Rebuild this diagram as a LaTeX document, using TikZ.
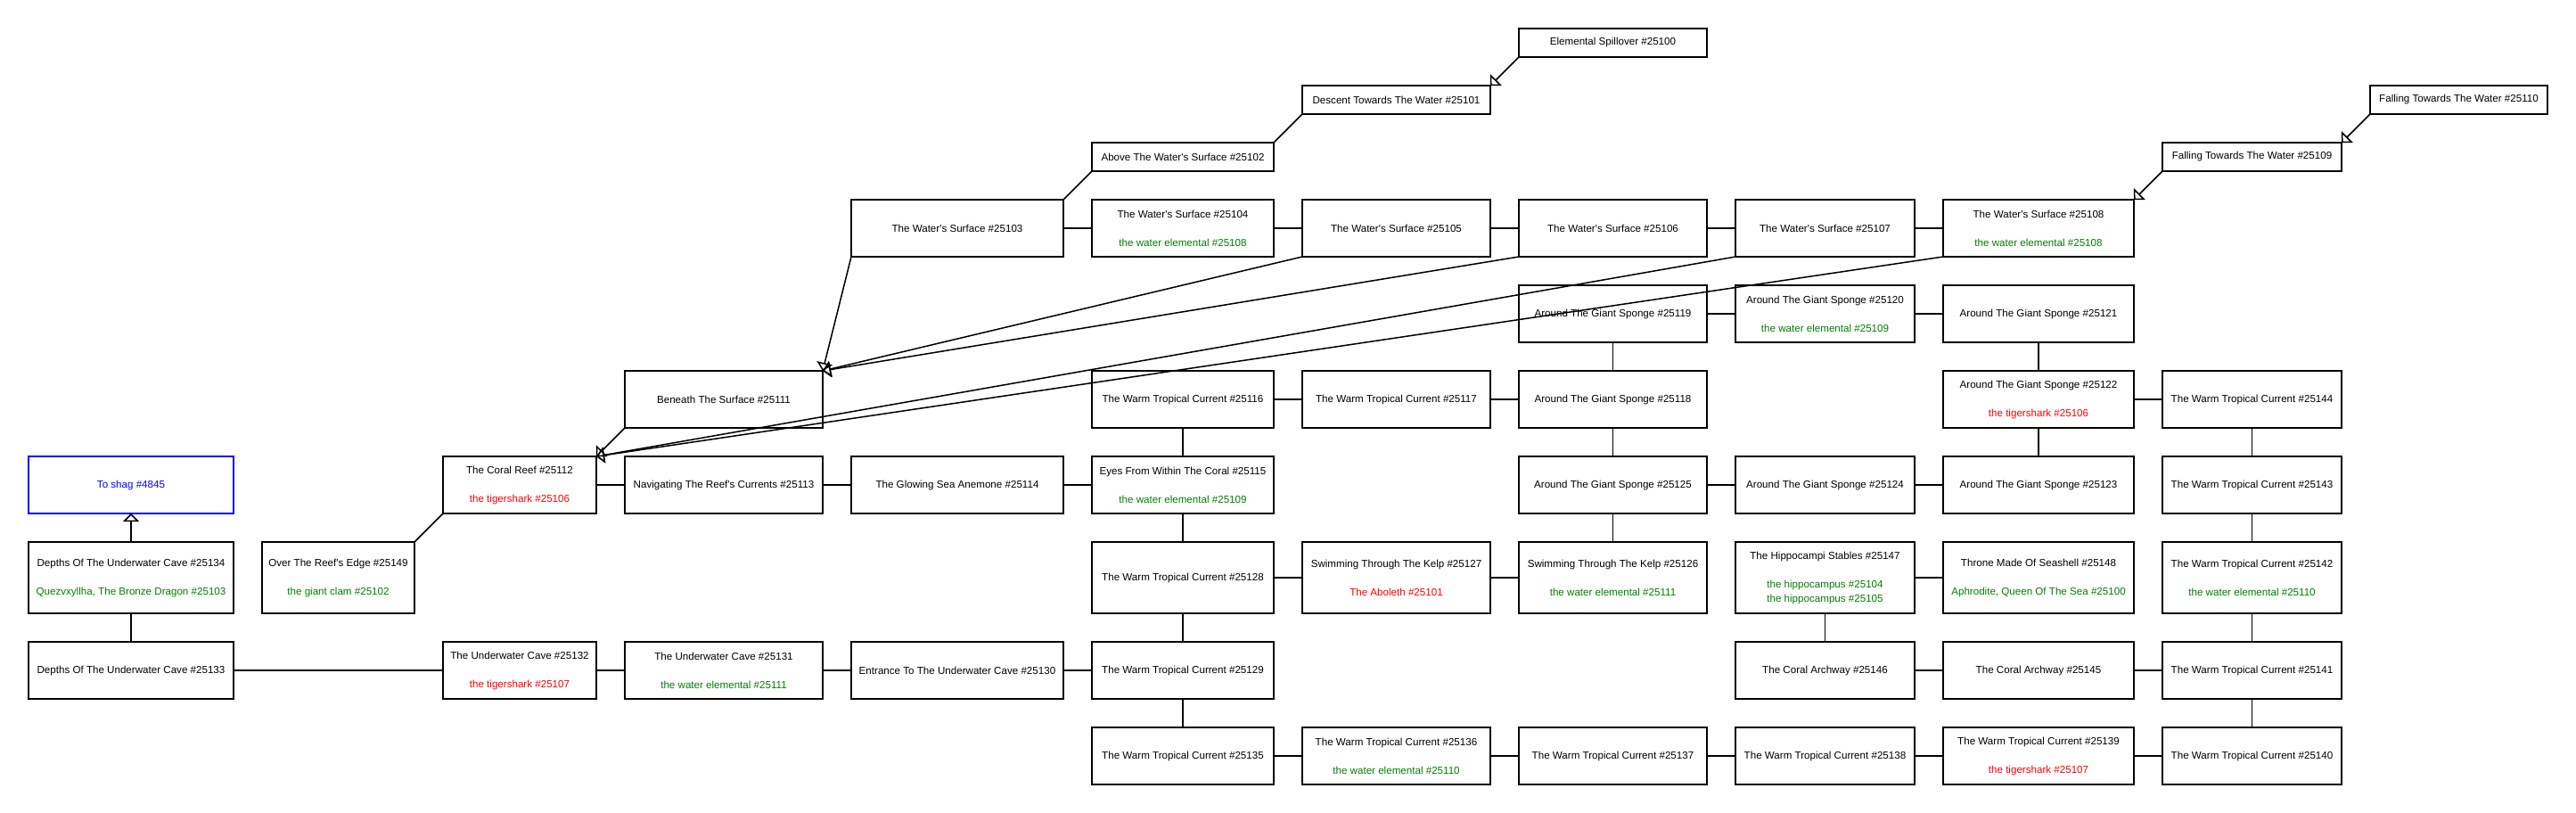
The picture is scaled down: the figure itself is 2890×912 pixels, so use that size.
\documentclass[tikz,border=0pt]{standalone}
\usepackage{fontspec}
\setmainfont{Liberation Sans}
\usetikzlibrary{arrows.meta}
\definecolor{tgreen}{RGB}{0,128,0}
\definecolor{tred}{RGB}{255,0,0}
\definecolor{tblue}{RGB}{0,0,255}
\newcommand\ap{\textquotesingle}
\newcommand\grn[1]{\textcolor{tgreen}{#1}}
\newcommand\rdd[1]{\textcolor{tred}{#1}}
\begin{document}
\begin{tikzpicture}[x=1pt,y=-1pt,
  room/.style={draw, line width=2pt, rectangle, inner sep=0pt, outer sep=0pt,
    align=center, font=\fontsize{11.6}{32}\selectfont},
  h32/.style={minimum height=32pt}, h64/.style={minimum height=64pt}, h80/.style={minimum height=80pt},
  c0/.style={minimum width=230pt}, c1/.style={minimum width=171pt}, c2/.style={minimum width=172pt},
  c3/.style={minimum width=222pt}, c4/.style={minimum width=238pt}, c5/.style={minimum width=204pt},
  c6/.style={minimum width=211pt}, c7/.style={minimum width=211pt}, c8/.style={minimum width=201pt},
  c9/.style={minimum width=214pt}, c10/.style={minimum width=201pt}, c11/.style={minimum width=199pt},
  conn/.style={line width=1.5pt},
  arr/.style={conn, -{Triangle[open, length=9pt, width=18pt]}}]
\fill[white] (0,0) rectangle (2890,912);
\useasboundingbox (0,0) rectangle (2890,912);
% R0
\node[room,h32,c7] (n25100) at (1809.5,48) {Elemental Spillover \#25100};
% R1
\node[room,h32,c6] (n25101) at (1566.5,112) {Descent Towards The Water \#25101};
\node[room,h32,c11] (n25110) at (2758.5,112) {Falling Towards The Water \#25110};
% R2
\node[room,h32,c5] (n25102) at (1327,176) {Above The Water\ap s Surface \#25102};
\node[room,h32,c10] (n25109) at (2526.5,176) {Falling Towards The Water \#25109};
% R3
\node[room,h64,c4] (n25103) at (1074,256) {The Water\ap s Surface \#25103};
\node[room,h64,c5] (n25104) at (1327,256) {The Water\ap s Surface \#25104\\\grn{the water elemental \#25108}};
\node[room,h64,c6] (n25105) at (1566.5,256) {The Water\ap s Surface \#25105};
\node[room,h64,c7] (n25106) at (1809.5,256) {The Water\ap s Surface \#25106};
\node[room,h64,c8] (n25107) at (2047.5,256) {The Water\ap s Surface \#25107};
\node[room,h64,c9] (n25108) at (2287,256) {The Water\ap s Surface \#25108\\\grn{the water elemental \#25108}};
% R4
\node[room,h64,c7] (n25119) at (1809.5,352) {Around The Giant Sponge \#25119};
\node[room,h64,c8] (n25120) at (2047.5,352) {Around The Giant Sponge \#25120\\\grn{the water elemental \#25109}};
\node[room,h64,c9] (n25121) at (2287,352) {Around The Giant Sponge \#25121};
% R5
\node[room,h64,c3] (n25111) at (812,448) {Beneath The Surface \#25111};
\node[room,h64,c5] (n25116) at (1327,448) {The Warm Tropical Current \#25116};
\node[room,h64,c6] (n25117) at (1566.5,448) {The Warm Tropical Current \#25117};
\node[room,h64,c7] (n25118) at (1809.5,448) {Around The Giant Sponge \#25118};
\node[room,h64,c9] (n25122) at (2287,448) {Around The Giant Sponge \#25122\\\rdd{the tigershark \#25106}};
\node[room,h64,c10] (n25144) at (2526.5,448) {The Warm Tropical Current \#25144};
% R6
\node[room,h64,c0,draw=tblue,text=tblue] (n4845) at (147,544) {To shag \#4845};
\node[room,h64,c2] (n25112) at (583,544) {The Coral Reef \#25112\\\rdd{the tigershark \#25106}};
\node[room,h64,c3] (n25113) at (812,544) {Navigating The Reef\ap s Currents \#25113};
\node[room,h64,c4] (n25114) at (1074,544) {The Glowing Sea Anemone \#25114};
\node[room,h64,c5] (n25115) at (1327,544) {Eyes From Within The Coral \#25115\\\grn{the water elemental \#25109}};
\node[room,h64,c7] (n25125) at (1809.5,544) {Around The Giant Sponge \#25125};
\node[room,h64,c8] (n25124) at (2047.5,544) {Around The Giant Sponge \#25124};
\node[room,h64,c9] (n25123) at (2287,544) {Around The Giant Sponge \#25123};
\node[room,h64,c10] (n25143) at (2526.5,544) {The Warm Tropical Current \#25143};
% R7
\node[room,h80,c0] (n25134) at (147,648) {Depths Of The Underwater Cave \#25134\\\grn{Quezvxyllha, The Bronze Dragon \#25103}};
\node[room,h80,c1] (n25149) at (379.5,648) {Over The Reef\ap s Edge \#25149\\\grn{the giant clam \#25102}};
\node[room,h80,c5] (n25128) at (1327,648) {The Warm Tropical Current \#25128};
\node[room,h80,c6] (n25127) at (1566.5,648) {Swimming Through The Kelp \#25127\\\rdd{The Aboleth \#25101}};
\node[room,h80,c7] (n25126) at (1809.5,648) {Swimming Through The Kelp \#25126\\\grn{the water elemental \#25111}};
\node[room,h80,c8] (n25147) at (2047.5,648) {The Hippocampi Stables \#25147\\\grn{the hippocampus \#25104}\\[-16pt]\grn{the hippocampus \#25105}};
\node[room,h80,c9] (n25148) at (2287,648) {Throne Made Of Seashell \#25148\\\grn{Aphrodite, Queen Of The Sea \#25100}};
\node[room,h80,c10] (n25142) at (2526.5,648) {The Warm Tropical Current \#25142\\\grn{the water elemental \#25110}};
% R8
\node[room,h64,c0] (n25133) at (147,752) {Depths Of The Underwater Cave \#25133};
\node[room,h64,c2] (n25132) at (583,752) {The Underwater Cave \#25132\\\rdd{the tigershark \#25107}};
\node[room,h64,c3] (n25131) at (812,752) {The Underwater Cave \#25131\\\grn{the water elemental \#25111}};
\node[room,h64,c4] (n25130) at (1074,752) {Entrance To The Underwater Cave \#25130};
\node[room,h64,c5] (n25129) at (1327,752) {The Warm Tropical Current \#25129};
\node[room,h64,c8] (n25146) at (2047.5,752) {The Coral Archway \#25146};
\node[room,h64,c9] (n25145) at (2287,752) {The Coral Archway \#25145};
\node[room,h64,c10] (n25141) at (2526.5,752) {The Warm Tropical Current \#25141};
% R9
\node[room,h64,c5] (n25135) at (1327,848) {The Warm Tropical Current \#25135};
\node[room,h64,c6] (n25136) at (1566.5,848) {The Warm Tropical Current \#25136\\\grn{the water elemental \#25110}};
\node[room,h64,c7] (n25137) at (1809.5,848) {The Warm Tropical Current \#25137};
\node[room,h64,c8] (n25138) at (2047.5,848) {The Warm Tropical Current \#25138};
\node[room,h64,c9] (n25139) at (2287,848) {The Warm Tropical Current \#25139\\\rdd{the tigershark \#25107}};
\node[room,h64,c10] (n25140) at (2526.5,848) {The Warm Tropical Current \#25140};
% plain connectors
\draw[conn] (n25134) -- (n25133);
\draw[conn] (n25133) -- (n25132);
\draw[conn] (n25132) -- (n25131);
\draw[conn] (n25131) -- (n25130);
\draw[conn] (n25130) -- (n25129);
\draw[conn] (n25149.north east) -- (n25112.south west);
\draw[conn] (n25112) -- (n25113);
\draw[conn] (n25113) -- (n25114);
\draw[conn] (n25114) -- (n25115);
\draw[conn] (n25115) -- (n25116);
\draw[conn] (n25116) -- (n25117);
\draw[conn] (n25117) -- (n25118);
\draw[conn] (n25118) -- (n25119);
\draw[conn] (n25118) -- (n25125);
\draw[conn] (n25119) -- (n25120);
\draw[conn] (n25120) -- (n25121);
\draw[conn] (n25121) -- (n25122);
\draw[conn] (n25122) -- (n25144);
\draw[conn] (n25122) -- (n25123);
\draw[conn] (n25125) -- (n25124);
\draw[conn] (n25124) -- (n25123);
\draw[conn] (n25144) -- (n25143);
\draw[conn] (n25143) -- (n25142);
\draw[conn] (n25142) -- (n25141);
\draw[conn] (n25141) -- (n25140);
\draw[conn] (n25141) -- (n25145);
\draw[conn] (n25145) -- (n25146);
\draw[conn] (n25146) -- (n25147);
\draw[conn] (n25147) -- (n25148);
\draw[conn] (n25140) -- (n25139);
\draw[conn] (n25139) -- (n25138);
\draw[conn] (n25138) -- (n25137);
\draw[conn] (n25137) -- (n25136);
\draw[conn] (n25136) -- (n25135);
\draw[conn] (n25135) -- (n25129);
\draw[conn] (n25129) -- (n25128);
\draw[conn] (n25128) -- (n25115);
\draw[conn] (n25128) -- (n25127);
\draw[conn] (n25127) -- (n25126);
\draw[conn] (n25126) -- (n25125);
\draw[conn] (n25103) -- (n25104);
\draw[conn] (n25104) -- (n25105);
\draw[conn] (n25105) -- (n25106);
\draw[conn] (n25106) -- (n25107);
\draw[conn] (n25107) -- (n25108);
\draw[conn] (n25103.north east) -- (n25102.south west);
\draw[conn] (n25102.north east) -- (n25101.south west);
% arrows
\draw[arr] (n25100.south west) -- (n25101.north east);
\draw[arr] (n25110.south west) -- (n25109.north east);
\draw[arr] (n25109.south west) -- (n25108.north east);
\draw[arr] (n25103.south west) -- (n25111.north east);
\draw[arr] (n25105.south west) -- (n25111.north east);
\draw[arr] (n25106.south west) -- (n25111.north east);
\draw[arr] (n25111.south west) -- (n25112.north east);
\draw[arr] (n25107.south west) -- (n25112.north east);
\draw[arr] (n25108.south west) -- (n25112.north east);
\draw[arr] (n25134) -- (n4845);
\end{tikzpicture}
\end{document}
